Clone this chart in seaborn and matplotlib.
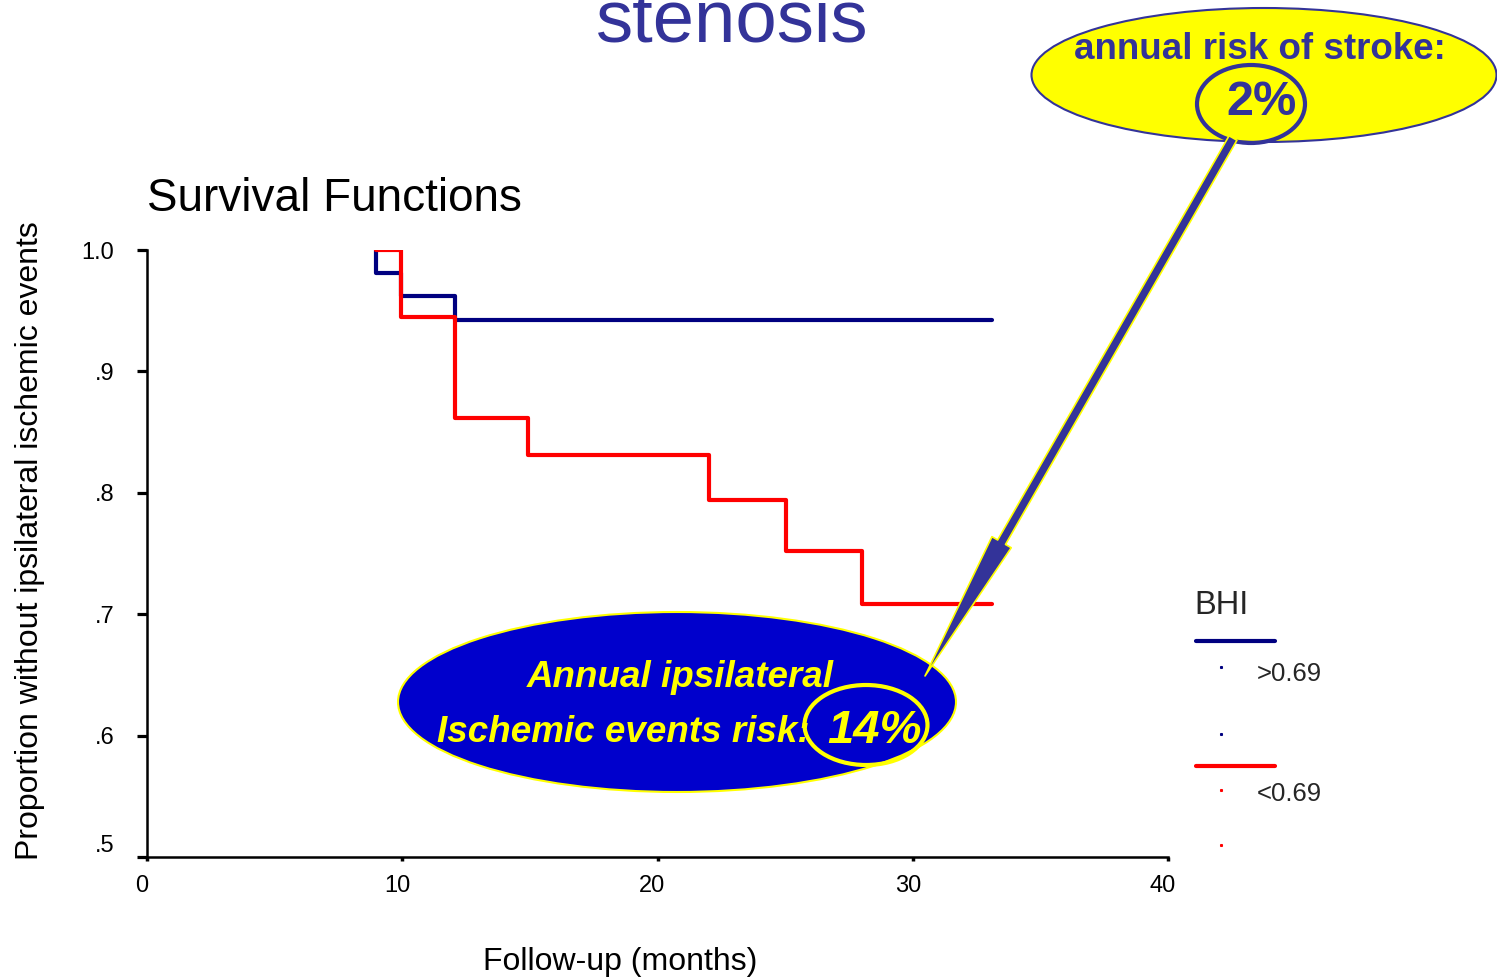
import numpy as np
import pandas as pd
import matplotlib
matplotlib.use('Agg')
import matplotlib.pyplot as plt
import matplotlib.transforms as mtransforms
import seaborn as sns
from matplotlib.patches import Ellipse, FancyArrowPatch
from matplotlib.lines import Line2D

# ---------------- data ----------------
groups = ['>0.69', '<0.69']
time_hi = [8.97, 8.97, 9.95, 12.07, 33.1]
surv_hi = [1.0, 0.981, 0.962, 0.942, 0.942]
time_lo = [8.97, 9.95, 12.07, 14.93, 22.02, 25.03, 28.01, 33.1]
surv_lo = [1.0, 0.945, 0.862, 0.831, 0.794, 0.752, 0.708, 0.708]
xticks = [0, 10, 20, 30, 40]
xtick_labels = ['0', '10', '20', '30', '40']
yticks = [0.5, 0.6, 0.7, 0.8, 0.9, 1.0]
ytick_labels = ['.5', '.6', '.7', '.8', '.9', '1.0']
palette = {'>0.69': '#000080', '<0.69': '#ff0000'}

df = pd.DataFrame({
    'time': time_hi + time_lo,
    'surv': surv_hi + surv_lo,
    'BHI': [groups[0]] * len(time_hi) + [groups[1]] * len(time_lo),
})

sns.set_style('white')
plt.rcParams['font.family'] = ['Liberation Sans', 'DejaVu Sans']

W, H = 1497, 980
fig = plt.figure(figsize=(W / 100, H / 100), dpi=100)
fig.patch.set_facecolor('white')


def fx(px):
    return px / W


def fy(py):
    return 1 - py / H


ax = fig.add_axes([147 / W, 1 - 857 / H, (1168 - 147) / W, (857 - 250) / H])
sns.lineplot(data=df, x='time', y='surv', hue='BHI', hue_order=groups,
             palette=palette, estimator=None, sort=False, legend=False,
             drawstyle='steps-post', lw=3, ax=ax)
ax.set_xlim(0, 40)
ax.set_ylim(0.5, 1.0)
ax.set_xticks(xticks)
ax.set_xticklabels(xtick_labels)
ax.set_yticks(yticks)
ax.set_yticklabels(ytick_labels)
ax.set_xlabel('')
ax.set_ylabel('')
for s in ['top', 'right']:
    ax.spines[s].set_visible(False)
for s in ['left', 'bottom']:
    ax.spines[s].set_color('black')
    ax.spines[s].set_linewidth(1.8)
ax.tick_params(axis='y', direction='out', length=7.5, width=2.3, color='black',
               labelsize=17, pad=16, left=True, labelcolor='black')
ax.tick_params(axis='x', direction='out', length=3, width=2.5, color='black',
               labelsize=17, pad=10, bottom=True, labelcolor='black')
ax.get_yticklabels()[0].set_va('bottom')
shift = mtransforms.ScaledTranslation(-5 / 100, 0, fig.dpi_scale_trans)
for lab in ax.get_xticklabels():
    lab.set_transform(lab.get_transform() + shift)
ax.grid(False)

# axis titles
fig.text(fx(30), fy(541), 'Proportion without ipsilateral ischemic events',
         rotation=90, ha='center', va='center', fontsize=23, color='black')
fig.text(fx(620), fy(962), 'Follow-up (months)', ha='center', va='center',
         fontsize=23, color='black')
fig.text(fx(147), fy(211), 'Survival Functions', ha='left', va='baseline',
         fontsize=33, color='black')
fig.text(fx(732), fy(42), 'stenosis', ha='center', va='baseline',
         fontsize=53.5, color='#333399')

# legend
fig.text(fx(1194), fy(606), 'BHI', ha='left', va='center', fontsize=23.5)
fig.add_artist(Line2D([fx(1196), fx(1275)], [fy(641)] * 2, color='#000080',
                      lw=3, transform=fig.transFigure))
fig.add_artist(Line2D([fx(1196), fx(1275)], [fy(766)] * 2, color='#ff0000',
                      lw=3, transform=fig.transFigure))
for (px, py, c) in [(1221, 667, '#000080'), (1221, 734, '#000080'),
                    (1221, 790, '#ff0000'), (1221, 845, '#ff0000')]:
    fig.add_artist(Line2D([fx(px)], [fy(py)], marker='s', ms=1.2, color=c,
                          lw=0, transform=fig.transFigure))
fig.text(fx(1257), fy(674), '>0.69', ha='left', va='center', fontsize=18.5)
fig.text(fx(1257), fy(794), '<0.69', ha='left', va='center', fontsize=18.5)

# yellow callout
fig.add_artist(Ellipse((fx(1264), fy(75)), width=465 / W, height=134 / H,
                       transform=fig.transFigure, fc='#ffff00', ec='#333399',
                       lw=1.5, zorder=5))
fig.text(fx(1260), fy(59), 'annual risk of stroke:', ha='center', va='baseline',
         fontsize=26.5, weight='bold', color='#333399', zorder=6)
fig.text(fx(1261), fy(115), '2%', ha='center', va='baseline',
         fontsize=35, weight='bold', color='#333399', zorder=6)
fig.add_artist(Ellipse((fx(1251), fy(104)), width=108 / W, height=78 / H,
                       transform=fig.transFigure, fill=False, ec='#333399',
                       lw=3, zorder=7))

# blue callout
fig.add_artist(Ellipse((fx(677), fy(702)), width=558 / W, height=180 / H,
                       transform=fig.transFigure, fc='#0000cc', ec='#ffff00',
                       lw=1.5, zorder=5))
fig.text(fx(680), fy(687), 'Annual ipsilateral', ha='center', va='baseline',
         fontsize=26.5, weight='bold', style='italic', color='#ffff00', zorder=6)
fig.text(fx(437), fy(742), 'Ischemic events risk:', ha='left', va='baseline',
         fontsize=26.5, weight='bold', style='italic', color='#ffff00', zorder=6)
fig.text(fx(874), fy(743), '14%', ha='center', va='baseline',
         fontsize=34, weight='bold', style='italic', color='#ffff00', zorder=6)
fig.add_artist(Ellipse((fx(866), fy(725)), width=123 / W, height=80 / H,
                       transform=fig.transFigure, fill=False, ec='#ffff00',
                       lw=3, zorder=7))

# arrow
arrow = FancyArrowPatch((fx(1233), fy(138)), (fx(925), fy(676)),
                        transform=fig.transFigure,
                        arrowstyle='simple,head_length=111,head_width=16,tail_width=6.5',
                        mutation_scale=1, fc='#333399', ec='#ffff00', lw=1.2,
                        shrinkA=0, shrinkB=0, zorder=8)
fig.add_artist(arrow)

fig.savefig('out.png', dpi=100, facecolor='white')
